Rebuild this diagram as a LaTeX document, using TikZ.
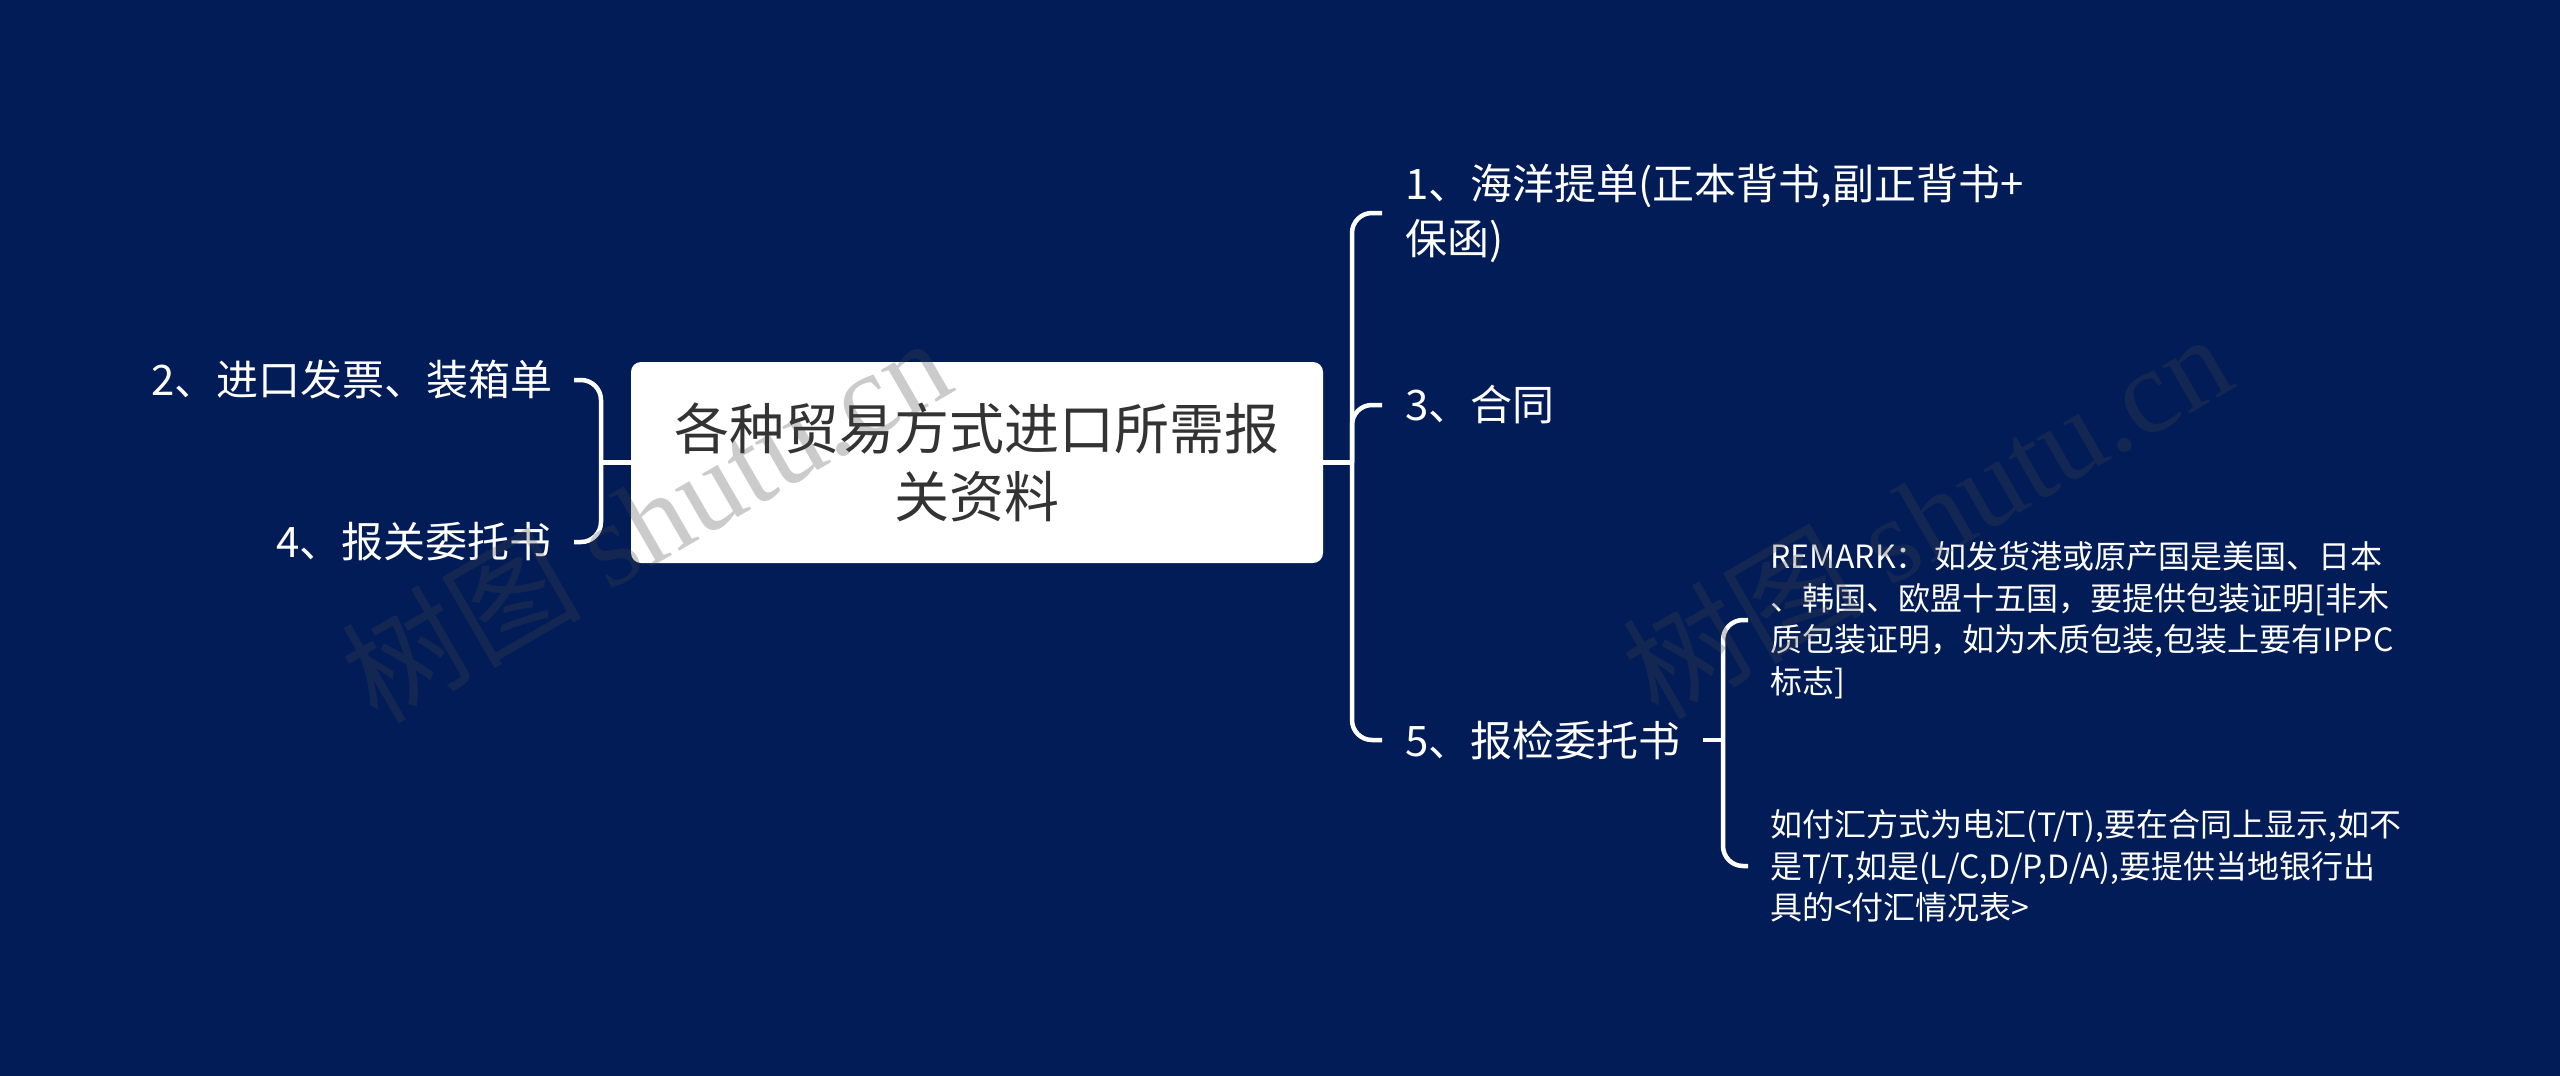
\documentclass[tikz,border=0pt]{standalone}
\usepackage{fontspec}
\setmainfont{Noto Sans CJK SC}
\newfontfamily\wmserif{Liberation Serif}
\newfontfamily\wmcjk{Noto Sans CJK SC}
\definecolor{bgnavy}{RGB}{1,28,87}
\definecolor{txtgray}{RGB}{51,51,51}
\definecolor{wmgray}{RGB}{70,70,70}
\begin{document}
\begin{tikzpicture}[x=1pt,y=-1pt,
  conn/.style={draw=white,line width=4.5pt,rounded corners=20pt},
  lab/.style={text=white,font=\fontsize{42}{55}\selectfont,inner sep=0pt,align=left},
  sublab/.style={text=white,font=\fontsize{32}{41.5}\selectfont,inner sep=0pt,align=left},
  wmark/.style={text=wmgray,text opacity=0.28,rotate=30,inner sep=0pt,font=\fontsize{120}{130}\selectfont}]
\fill[bgnavy] (0,0) rectangle (2560,1076);
\useasboundingbox (0,0) rectangle (2560,1076);

% central node
\node[fill=white,rounded corners=10pt,minimum width=692pt,minimum height=201pt,
      align=center,font=\fontsize{55}{68}\selectfont,text=txtgray,inner sep=0pt]
      (root) at (977,462.5) {各种贸易方式进口所需报\\关资料};

% left nodes
\node[lab,anchor=east] (l2) at (553,380) {2、进口发票、装箱单};
\node[lab,anchor=east] (l4) at (552,542) {4、报关委托书};

% right nodes
\node[lab,anchor=west] (r1) at (1405,213) {1、海洋提单(正本背书,副正背书+\\保函)};
\node[lab,anchor=west] (r3) at (1405,405) {3、合同};
\node[lab,anchor=west] (r5) at (1405,740) {5、报检委托书};

% sub nodes
\node[sublab,anchor=west] (s1) at (1770,620) {REMARK： 如发货港或原产国是美国、日本\\、韩国、欧盟十五国，要提供包装证明[非木\\质包装证明，如为木质包装,包装上要有IPPC\\标志]};
\node[sublab,anchor=west] (s2) at (1770,866) {如付汇方式为电汇(T/T),要在合同上显示,如不\\是T/T,如是(L/C,D/P,D/A),要提供当地银行出\\具的<付汇情况表>};

% connectors
\coordinate (lj) at (601,462.5);
\draw[conn] ([xshift=21pt]l2.east) -| (lj) |- ([xshift=22pt]l4.east);
\draw[conn] (root.west) -- (lj);

\coordinate (rj) at (1352,462.5);
\draw[conn] ([xshift=-23pt]r1.west) -| (rj) |- ([xshift=-23pt]r5.west);
\draw[conn] ([xshift=-23pt]r3.west) -| (rj);
\draw[conn] (root.east) -- (rj);

\coordinate (sj) at (1723,740);
\draw[conn] ([xshift=22pt]r5.east) -- (sj);
\draw[conn] ([xshift=-22pt]s1.west) -| (sj) |- ([xshift=-22pt]s2.west);

% watermarks
\node[wmark] (wm1) at (645,518) {{\wmcjk 树图} {\wmserif shutu.cn}};
\node[wmark] (wm2) at (1926,514) {{\wmcjk 树图} {\wmserif shutu.cn}};
\end{tikzpicture}
\end{document}
